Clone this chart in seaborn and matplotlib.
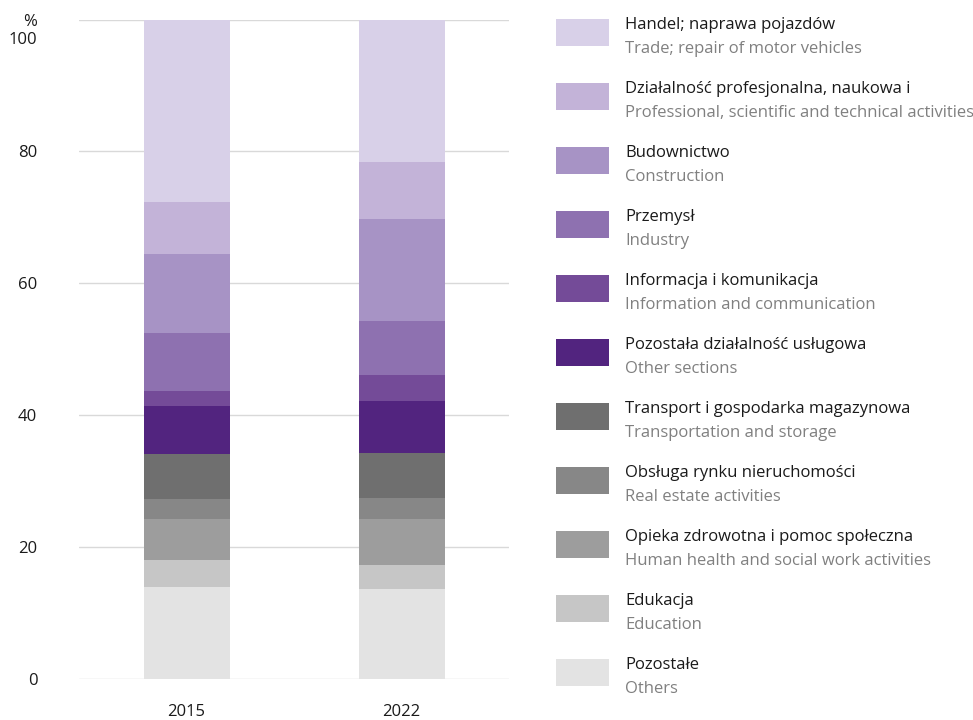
import pandas as pd
import matplotlib.pyplot as plt
from matplotlib.patches import Rectangle
import seaborn as sns

sns.set_style('white')
plt.rcParams['font.family'] = ['Open Sans', 'DejaVu Sans']

# sectors listed from top of the stack to the bottom (same order as the legend)
sectorsPL = ['Handel; naprawa pojazdów',
             'Działalność profesjonalna, naukowa i',
             'Budownictwo',
             'Przemysł',
             'Informacja i komunikacja',
             'Pozostała działalność usługowa',
             'Transport i gospodarka magazynowa',
             'Obsługa rynku nieruchomości',
             'Opieka zdrowotna i pomoc społeczna',
             'Edukacja',
             'Pozostałe']
sectorsEN = ['Trade; repair of motor vehicles',
             'Professional, scientific and technical activities',
             'Construction',
             'Industry',
             'Information and communication',
             'Other sections',
             'Transportation and storage',
             'Real estate activities',
             'Human health and social work activities',
             'Education',
             'Others']
colours = ['#d8d0e8', '#c3b3d8', '#a793c5', '#8e71b0', '#744b98', '#52247f',
           '#6f6f6f', '#878787', '#9d9d9d', '#c6c6c6', '#e3e3e3']
years = ['2015', '2022']
share2015 = [27.7, 7.9, 12.0, 8.7, 2.3, 7.3, 6.8, 3.0, 6.3, 4.0, 14.0]
share2022 = [21.6, 8.7, 15.4, 8.2, 3.9, 7.9, 6.8, 3.3, 6.9, 3.7, 13.6]
yTicks = [0, 20, 40, 60, 80, 100]

#long table for seaborn
rows = []
for year, shares in zip(years, [share2015, share2022]):
    for sector, s in zip(sectorsPL, shares):
        rows.append({'year': year, 'sector': sector, 'share': s})
df = pd.DataFrame(rows)
palette = dict(zip(sectorsPL, colours))

fs = 12
fig = plt.figure(figsize=(9.73, 7.2), dpi=100)
ax = fig.add_axes([79/973, 1-679/720, 430/973, 659.5/720])

#stacked bars - histplot puts the first hue level on top
sns.histplot(data=df, x='year', weights='share', hue='sector', hue_order=sectorsPL,
             multiple='stack', palette=palette, shrink=0.4, discrete=True,
             alpha=1, linewidth=0, legend=False, ax=ax)

ax.set_xlim(-0.5, 1.5)
ax.set_ylim(0, 100)
ax.set_yticks(yTicks)
ax.set_yticklabels([str(t) for t in yTicks[:-1]] + [''])
ax.set_xlabel('')
ax.set_ylabel('')
ax.yaxis.grid(True, color='#d9d9d9', linewidth=1)
ax.xaxis.grid(False)
ax.set_axisbelow(True)
sns.despine(ax=ax, left=True, bottom=True)
ax.tick_params(axis='y', length=0, pad=30, labelsize=fs, labelcolor='#1a1a1a')
ax.tick_params(axis='x', length=0, pad=18, labelsize=fs, labelcolor='#1a1a1a')

#100 label sits under the % sign
ax.annotate('100', xy=(0, 100), xycoords=('axes fraction', 'data'), xytext=(-42, -21),
            textcoords='offset pixels', ha='right', va='center', fontsize=fs, color='#1a1a1a')
ax.annotate('%', xy=(0, 100), xycoords=('axes fraction', 'data'), xytext=(-42, -2),
            textcoords='offset pixels', ha='right', va='center', fontsize=fs, color='#1a1a1a')

#legend drawn by hand in pixel coordinates
lax = fig.add_axes([0, 0, 1, 1])
lax.set_xlim(0, 973)
lax.set_ylim(720, 0)
lax.axis('off')
for i in range(len(sectorsPL)):
    top = 19 + 64*i
    lax.add_patch(Rectangle((556, top), 53, 26.5, color=colours[i], linewidth=0))
    lax.text(625, top+6, sectorsPL[i], ha='left', va='center', fontsize=fs, color='#1a1a1a')
    lax.text(625, top+30, sectorsEN[i], ha='left', va='center', fontsize=fs, color='#808080')

fig.savefig('out.png', dpi=100)
plt.close()
